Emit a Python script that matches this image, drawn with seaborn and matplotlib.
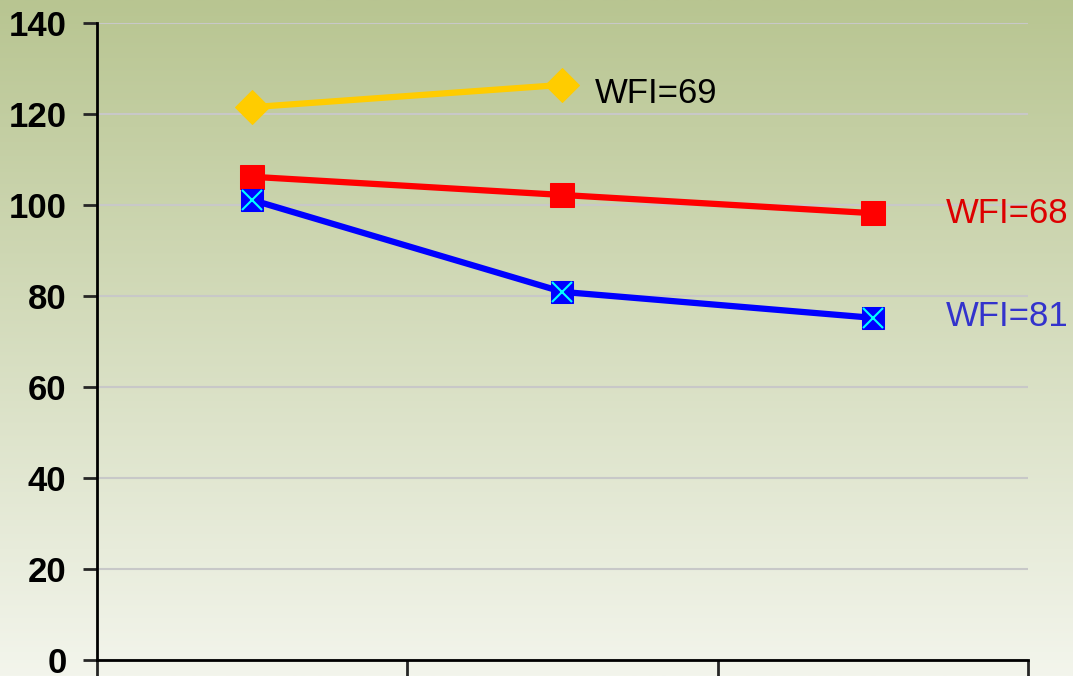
import numpy as np
import pandas as pd
import matplotlib
matplotlib.use("Agg")
import matplotlib.pyplot as plt
import seaborn as sns

# dados
periods = [0, 1, 2]
yellow_vals = [121.5, 126.4]
red_vals = [106.2, 102.2, 98.2]
blue_vals = [101.1, 80.9, 75.2]
labels = ["WFI=69", "WFI=68", "WFI=81"]
yticks = [0, 20, 40, 60, 80, 100, 120, 140]

sns.set_style("white")
plt.rcParams['font.family'] = ['Liberation Sans Narrow', 'Liberation Sans', 'DejaVu Sans']

fig = plt.figure(figsize=(10.73, 6.76), dpi=100)

# fundo em degradê (verde no topo, quase branco embaixo)
bg = fig.add_axes([0, 0, 1, 1], zorder=-10)
top = np.array([184, 197, 145]) / 255
bottom = np.array([243, 245, 236]) / 255
t = np.linspace(0, 1, 256)[:, None]
grad = top * (1 - t) + bottom * t
bg.imshow(grad[:, None, :], aspect='auto', extent=[0, 1, 0, 1])
bg.axis('off')

ax = fig.add_axes([0.0904, 0.0237, 0.8676, 0.9423])
ax.patch.set_alpha(0)

df_y = pd.DataFrame({'x': periods[:2], 'y': yellow_vals})
df_r = pd.DataFrame({'x': periods, 'y': red_vals})
df_b = pd.DataFrame({'x': periods, 'y': blue_vals})

sns.lineplot(data=df_y, x='x', y='y', ax=ax, color='#ffcc00', lw=4.5,
             marker='D', markersize=17, markeredgecolor='#ffcc00', zorder=3)
sns.lineplot(data=df_r, x='x', y='y', ax=ax, color='#ff0000', lw=4.5,
             marker='s', markersize=17, markeredgecolor='#ff0000', zorder=3)
sns.lineplot(data=df_b, x='x', y='y', ax=ax, color='#0000ff', lw=4.5,
             marker='s', markersize=16, markeredgecolor='#0000ff', zorder=4)
ax.plot(df_b['x'], df_b['y'], ls='none', marker='x', markersize=15,
        markeredgecolor='#00ffff', markeredgewidth=1.5, zorder=5)

ax.text(1.105, 124.6, labels[0], color='black', fontsize=25, va='center', ha='left')
ax.text(2.236, 98.2, labels[1], color='#dd0000', fontsize=25, va='center', ha='left', clip_on=False)
ax.text(2.236, 75.4, labels[2], color='#3333cc', fontsize=25, va='center', ha='left', clip_on=False)

ax.set_xlim(-0.5, 2.5)
ax.set_ylim(0, 140)
ax.set_yticks(yticks)
ax.set_yticklabels([str(v) for v in yticks], fontsize=25, fontweight='bold', color='black')
ax.set_xticks([-0.5, 0.5, 1.5, 2.5])
ax.set_xticklabels([])
ax.tick_params(axis='y', length=10, width=2, direction='out', left=True, pad=12)
ax.tick_params(axis='x', length=20, width=2, direction='out', bottom=True)
ax.grid(axis='y', color='#c8c8c8', lw=1.5)
ax.set_axisbelow(True)
ax.set_xlabel('')
ax.set_ylabel('')
for s in ['top', 'right']:
    ax.spines[s].set_visible(False)
for s in ['left', 'bottom']:
    ax.spines[s].set_color('black')
    ax.spines[s].set_linewidth(2)

fig.savefig('out.png', dpi=100)
